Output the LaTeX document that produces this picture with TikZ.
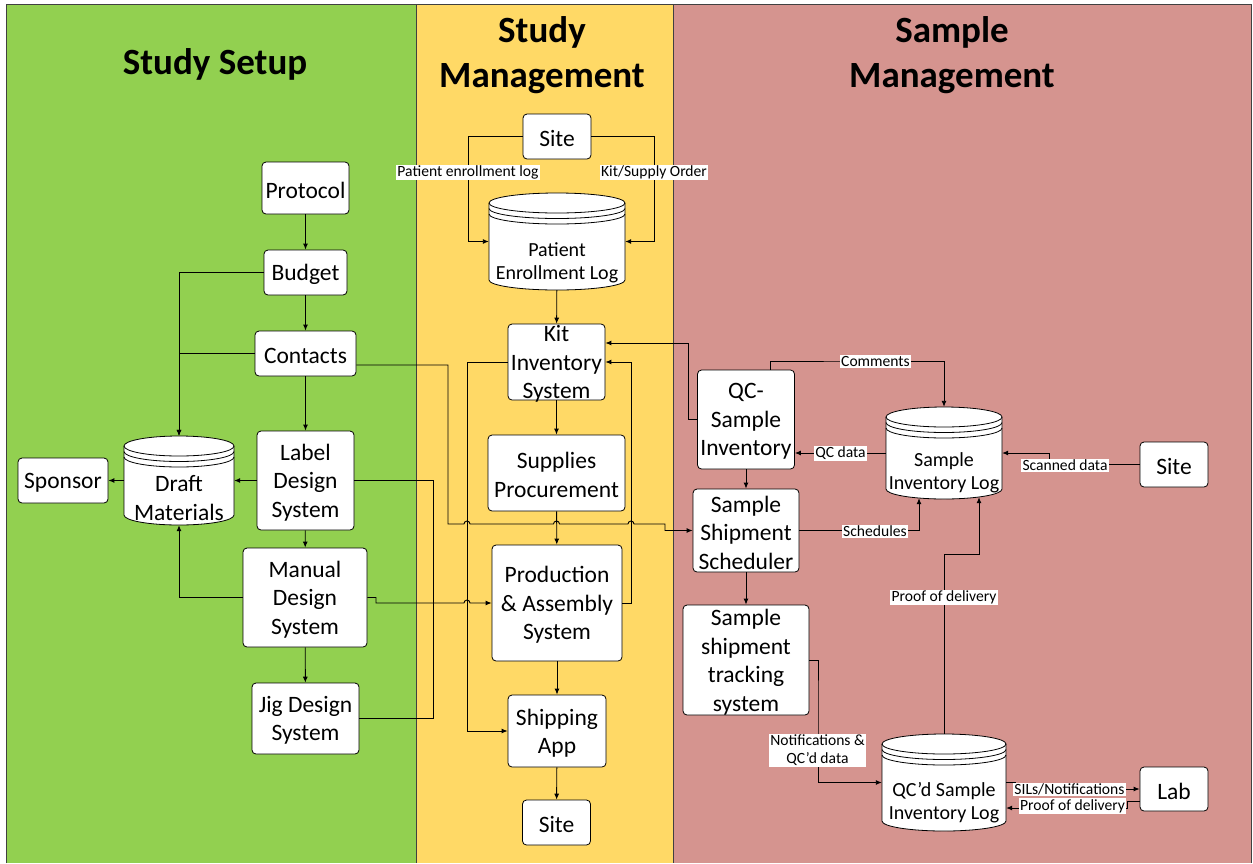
\documentclass[tikz,border=0pt]{standalone}
\usepackage{fontspec}
\setmainfont{Carlito}
\usetikzlibrary{arrows.meta,calc}

\definecolor{setupgreen}{HTML}{92D050}
\definecolor{mgmtyellow}{HTML}{FFD966}
\definecolor{samplered}{HTML}{D5948F}
\definecolor{laneframe}{HTML}{404040}

% stacked-disk data store: centre x, centre y, width, height
\newcommand\dbdraw[4]{%
  \draw[dbline] ({#1-#3/2},{#2-#4/2+10}) -- ({#1-#3/2},{#2+#4/2-10})
     arc[start angle=180,end angle=360,x radius={#3*0.5pt},y radius=10pt]
     -- ({#1+#3/2},{#2-#4/2+10})
     arc[start angle=0,end angle=180,x radius={#3*0.5pt},y radius=10pt] -- cycle;
  \foreach \off in {10,15.5,21}{%
    \draw[dbline,fill=none] ({#1-#3/2},{#2-#4/2+\off})
      arc[start angle=180,end angle=360,x radius={#3*0.5pt},y radius=10pt];
  }%
}

\tikzset{
  box/.style={draw=black, fill=white, rounded corners=4pt, line width=0.8pt, inner sep=0pt},
  boxtext/.style={font=\fontsize{23.5}{28.5}\selectfont, align=center, inner sep=0pt, yshift=-2pt},
  dbtext/.style={font=\fontsize{20}{23}\selectfont, align=center, inner sep=0pt},
  dbnode/.style={draw=none, inner sep=0pt},
  dbline/.style={draw=black, fill=white, line width=0.8pt},
  flow/.style={line width=0.9pt, -{Latex[length=6pt,width=5pt]}},
  link/.style={line width=0.9pt},
  elabel/.style={fill=white, font=\fontsize{15.6}{18}\selectfont, inner sep=1.2pt, align=center},
  lanetitle/.style={font=\fontsize{37}{45}\selectfont\bfseries, align=center},
}

\begin{document}
\begin{tikzpicture}[x=1pt,y=-1pt]
\useasboundingbox (0,0) rectangle (1253,863);

% swim lanes
\fill[setupgreen] (6,4) rectangle (416,863);
\fill[mgmtyellow] (416,4) rectangle (673,863);
\fill[samplered] (673,4) rectangle (1251,863);
\draw[laneframe, line width=0.8pt] (6,863) -- (6,4) -- (1251,4) -- (1251,863);
\draw[laneframe, line width=0.8pt] (416,4) -- (416,863);
\draw[laneframe, line width=0.8pt] (673,4) -- (673,863);

\node[lanetitle] (t1) at (215,64) {Study Setup};
\node[lanetitle] (t2) at (542,55) {Study\\Management};
\node[lanetitle] (t3) at (952,55) {Sample\\Management};

% data stores
\dbdraw{179}{480.5}{110}{89}
\dbdraw{557}{241.5}{136}{97}
\dbdraw{944}{453}{116}{92}
\dbdraw{944}{782.5}{124}{97}

\node[dbnode, minimum width=110pt, minimum height=89pt,
  label={[boxtext,yshift=-15.5pt]center:Draft\\Materials}] (draft) at (179,480.5) {};
\node[dbnode, minimum width=136pt, minimum height=97pt,
  label={[dbtext,yshift=-21.5pt]center:Patient\\Enrollment Log}] (pel) at (557,241.5) {};
\node[dbnode, minimum width=116pt, minimum height=92pt,
  label={[dbtext,yshift=-19.5pt]center:Sample\\Inventory Log}] (sil) at (944,453) {};
\node[dbnode, minimum width=124pt, minimum height=97pt,
  label={[dbtext,yshift=-20.5pt]center:QC’d Sample\\Inventory Log}] (qcdlog) at (944,782.5) {};

% study setup
\node[box, minimum width=87pt, minimum height=52pt, label={[boxtext]center:Protocol}] (protocol) at (305.5,188) {};
\node[box, minimum width=83pt, minimum height=45pt, label={[boxtext]center:Budget}] (budget) at (305.5,272.5) {};
\node[box, minimum width=101pt, minimum height=45pt, label={[boxtext]center:Contacts}] (contacts) at (305.5,353.5) {};
\node[box, minimum width=97pt, minimum height=99pt, label={[boxtext]center:Label\\Design\\System}] (label) at (305.5,480.5) {};
\node[box, minimum width=124pt, minimum height=99pt, label={[boxtext]center:Manual\\Design\\System}] (manual) at (305,597.5) {};
\node[box, minimum width=107pt, minimum height=71pt, label={[boxtext]center:Jig Design\\System}] (jig) at (305.5,718.5) {};
\node[box, minimum width=90pt, minimum height=45pt, label={[boxtext]center:Sponsor}] (sponsor) at (63,480.5) {};

% study management
\node[box, minimum width=68pt, minimum height=45pt, label={[boxtext]center:Site}] (site1) at (557,136.5) {};
\node[box, minimum width=97pt, minimum height=76pt, label={[boxtext]center:Kit\\Inventory\\System}] (kit) at (556.5,362) {};
\node[box, minimum width=137pt, minimum height=76pt, label={[boxtext]center:Supplies\\Procurement}] (supplies) at (556.5,473) {};
\node[box, minimum width=130pt, minimum height=116pt, label={[boxtext]center:Production\\\& Assembly\\System}] (prod) at (557,603) {};
\node[box, minimum width=98pt, minimum height=72pt, label={[boxtext]center:Shipping\\App}] (ship) at (557,731) {};
\node[box, minimum width=68pt, minimum height=45pt, label={[boxtext]center:Site}] (site2) at (556.5,822.5) {};

% sample management
\node[box, minimum width=97pt, minimum height=99pt, label={[boxtext]center:QC-\\Sample\\Inventory}] (qcsi) at (746,419.5) {};
\node[box, minimum width=106pt, minimum height=83pt, label={[boxtext]center:Sample\\Shipment\\Scheduler}] (sched) at (746,530.5) {};
\node[box, minimum width=126pt, minimum height=110pt, label={[boxtext]center:Sample\\shipment\\tracking\\system}] (track) at (746,660) {};
\node[box, minimum width=68pt, minimum height=45pt, label={[boxtext]center:Site}] (site3) at (1174,464.5) {};
\node[box, minimum width=68pt, minimum height=44pt, label={[boxtext]center:Lab}] (lab) at (1174,789) {};

% route points
\coordinate (cB) at (448,524);
\coordinate (m1) at (376,603);
\coordinate (j1) at (433,603);
\coordinate (pL) at (468,241.5);
\coordinate (pR) at (654,241.5);
\coordinate (kL) at (467,362);
\coordinate (pK) at (631,603);
\coordinate (qK) at (688,343);
\coordinate (cm) at (875.5,361);
\coordinate (sc1) at (1049,453);
\coordinate (pd) at (979,554);
\coordinate (nt) at (818,700);
\coordinate (s1) at (1015,785);
\coordinate (s2) at (1127,805);

% study setup flows
\draw[flow] (protocol) -- (budget);
\draw[flow] (budget) -- (contacts);
\draw[flow] (contacts) -- (label);
\draw[flow] (label) -- (manual);
\draw[flow] (manual) -- (jig);
\draw[flow] (budget.west) -| (draft.north);
\draw[flow] (contacts.west) -| (draft.north);
\draw[flow] (manual.west) -| (draft.south);
\draw[flow] (label.west) -- (draft.east);
\draw[flow] (draft.west) -- (sponsor.east);
\draw[link] (label.east) -| (j1);
\draw[link] (jig.east) -| (j1);
\draw[flow] (manual.east) -| (m1) -- (464,603)
  arc[start angle=180,end angle=0,radius=3pt] -- (prod.west);
\draw[flow] ([yshift=-11.5pt]contacts.east) -| (cB) -- (464,524)
  arc[start angle=180,end angle=0,radius=3pt] -- (553.5,524)
  arc[start angle=180,end angle=0,radius=3pt] -- (628,524)
  arc[start angle=180,end angle=0,radius=3pt] -- (665,524) -- (665,530.5) -- (sched.west);

% study management flows
\draw[flow] (site1.west) -| (pL) -- (pel.west);
\draw[flow] (site1.east) -| (pR) -- (pel.east);
\node[elabel] (lb1) at (468,172.5) {Patient enrollment log};
\node[elabel] (lb2) at (654,172.5) {Kit/Supply Order};
\draw[flow] (pel) -- (kit);
\draw[flow] (kit) -- (supplies);
\draw[flow] (supplies) -- (prod);
\draw[flow] (prod) -- (ship);
\draw[flow] (ship) -- (site2);
\draw[flow] (kit.west) -- (kL) |- (ship.west);
\draw[flow] (prod.east) -- (pK) |- (kit.east);
\draw[flow] (qcsi.west) -| (qK) -- ([yshift=19pt]kit.east);

% sample management flows
\draw[flow] (qcsi) -- (sched);
\draw[flow] (sched) -- (track);
\draw[flow] ([xshift=24pt]qcsi.north) |- (cm) -| (sil.north);
\node[elabel] (lb3) at (875.5,361.5) {Comments};
\draw[flow] (sil.west) -- (qcsi.east |- sil.west);
\node[elabel] (lb4) at (840.5,453.5) {QC data};
\draw[flow] (site3.west) -| (sc1) -- (sil.east);
\node[elabel] (lb5) at (1065,465.5) {Scanned data};
\draw[flow] (sched.east) -| ([xshift=-25pt,yshift=1pt]sil.south);
\node[elabel] (lb6) at (875,531.5) {Schedules};
\draw[flow] (qcdlog.north) |- (pd) -- ([xshift=35pt,yshift=2pt]sil.south);
\node[elabel] (lb7) at (944,597.5) {Proof of delivery};
\draw[flow] (track.east) -| (nt) |- (qcdlog.west);
\node[elabel] (lb8) at (817.5,750.5) {Notifications \&\\QC’d data};
\draw[flow] (qcdlog.east) -| (s1) |- (lab.west);
\draw[flow] ([yshift=-12pt]lab.west) -| (s2) |- ([yshift=-25.5pt]qcdlog.east);
\node[elabel] (lb9) at (1069.5,789.5) {SILs/Notifications};
\node[elabel] (lb10) at (1072.5,806) {Proof of delivery};
\end{tikzpicture}
\end{document}
